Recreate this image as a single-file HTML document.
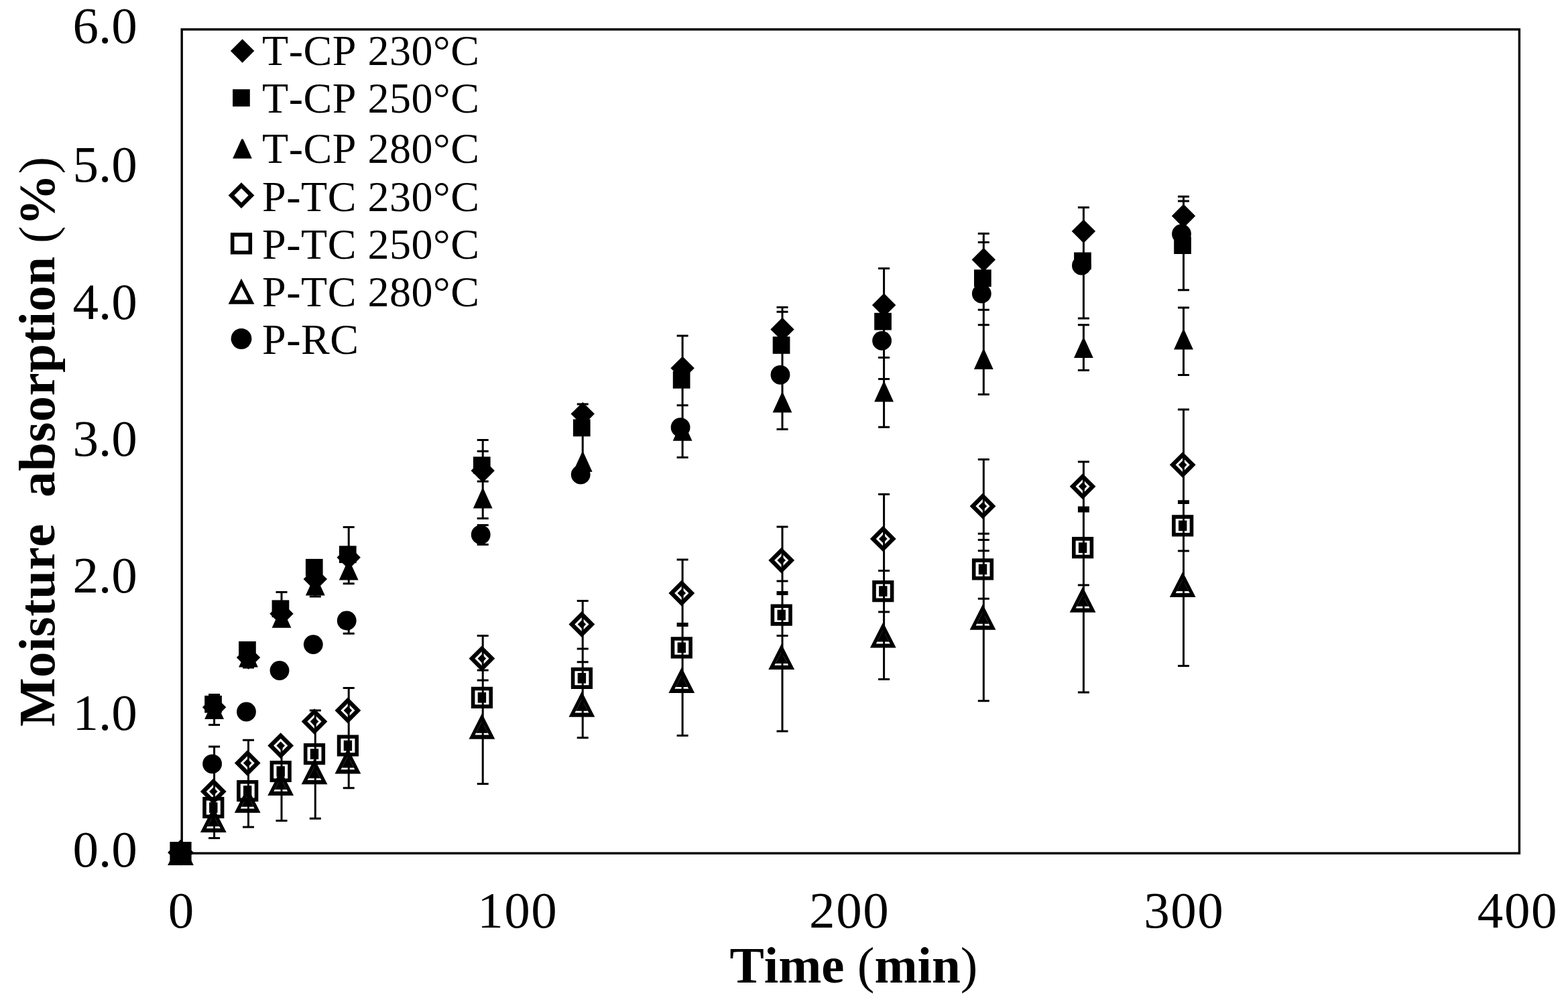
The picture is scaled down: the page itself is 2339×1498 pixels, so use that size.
<!DOCTYPE html><html><head><meta charset="utf-8"><title>Moisture absorption</title><style>html,body{margin:0;padding:0;background:#fff;overflow:hidden}svg{display:block}</style></head><body><svg width="2339" height="1498" viewBox="0 0 2339 1498"><rect width="2339" height="1498" fill="#fff"/><rect x="271.2" y="43.9" width="1995.2" height="1229.2" fill="none" stroke="#000" stroke-width="3.4"/><path d="M319.6 1036.5V1081.5M319.6 1113.9V1250.6M311.1 1036.5H328.1M311.1 1081.5H328.1M311.1 1113.9H328.1M311.1 1250.6H328.1M370.5 960V996M370.5 1104.3V1234M362 996H379M362 1104.3H379M362 1234H379M420 883.5V930M420 1111V1224.5M411.5 883.5H428.5M411.5 1224.5H428.5M470.3 850V890M470.3 1060V1221.3M461.8 890H478.8M461.8 1060H478.8M461.8 1221.3H478.8M520.2 786.5V870.8M520.2 913V945.2M520.2 1026.6V1175.7M511.7 786.5H528.7M511.7 870.8H528.7M511.7 945.2H528.7M511.7 1026.6H528.7M511.7 1175.7H528.7M720.2 656.5V773.5M720.2 783.5V812.5M720.2 948.4V1169.6M711.7 656.5H728.7M711.7 673.2H728.7M711.7 718.3H728.7M711.7 773.5H728.7M711.7 783.5H728.7M711.7 812.5H728.7M711.7 948.4H728.7M711.7 1000.1H728.7M711.7 1015.1H728.7M711.7 1169.6H728.7M869.2 603V690M869.2 896.4V1100.8M860.7 603H877.7M860.7 896.4H877.7M860.7 968.1H877.7M860.7 987.8H877.7M860.7 1100.8H877.7M1018.1 501V682.6M1018.1 835.1V1097.6M1009.6 501H1026.6M1009.6 604.8H1026.6M1009.6 682.6H1026.6M1009.6 835.1H1026.6M1009.6 930.6H1026.6M1009.6 933.4H1026.6M1009.6 1097.6H1026.6M1167 458.6V640.4M1167 786.1V1091.1M1158.5 458.6H1175.5M1158.5 465.3H1175.5M1158.5 640.4H1175.5M1158.5 786.1H1175.5M1158.5 866.9H1175.5M1158.5 883.6H1175.5M1158.5 886.4H1175.5M1158.5 948.4H1175.5M1158.5 1091.1H1175.5M1318.6 400.4V637.3M1318.6 737.6V1013.6M1310.1 400.4H1327.1M1310.1 533.5H1327.1M1310.1 565.6H1327.1M1310.1 637.3H1327.1M1310.1 737.6H1327.1M1310.1 851.5H1327.1M1310.1 913H1327.1M1310.1 1013.6H1327.1M1467.3 348.6V588.5M1467.3 685.6V1045.8M1458.8 348.6H1475.8M1458.8 361.5H1475.8M1458.8 462.3H1475.8M1458.8 484.7H1475.8M1458.8 588.5H1475.8M1458.8 685.6H1475.8M1458.8 796.3H1475.8M1458.8 805.4H1475.8M1458.8 821.8H1475.8M1458.8 893.2H1475.8M1458.8 1045.8H1475.8M1616.4 309.6V475M1616.4 484.8V552.6M1616.4 689V1033M1607.9 309.6H1624.9M1607.9 475H1624.9M1607.9 484.8H1624.9M1607.9 552.6H1624.9M1607.9 689H1624.9M1607.9 757H1624.9M1607.9 760H1624.9M1607.9 763H1624.9M1607.9 873H1624.9M1607.9 1033H1624.9M1765.5 293.3V432.7M1765.5 458.9V559.4M1765.5 611V993.4M1757 293.3H1774M1757 299.9H1774M1757 432.7H1774M1757 458.9H1774M1757 559.4H1774M1757 611H1774M1757 747.8H1774M1757 750.4H1774M1757 821.9H1774M1757 993.4H1774" stroke="#000" stroke-width="3" fill="none"/><g fill="#000"><path fill-rule="evenodd" d="M269.5 1252.9L288.9 1291.1L250.1 1291.1ZM269.5 1264.6L279.9 1284.9L259.1 1284.9Z"/><path fill-rule="evenodd" d="M253.4 1255.9H285.6V1288.1H253.4ZM259 1261.5H280V1282.5H259Z"/><path fill-rule="evenodd" d="M269.5 1252.6L288.9 1272L269.5 1291.4L250.1 1272ZM269.5 1261.4L280.1 1272L269.5 1282.6L258.9 1272Z"/><circle cx="269.5" cy="1272" r="14.4"/><path d="M268.3 1257.5L270.7 1257.5L283.9 1286.5L255.1 1286.5Z"/><rect x="256.6" y="1259.2" width="25.7" height="25.7"/><path d="M269.5 1254.3L287.2 1272L269.5 1289.7L251.8 1272Z"/><path fill-rule="evenodd" d="M318.3 1203.9L337.7 1242.1L298.9 1242.1ZM318.3 1215.6L328.7 1235.9L307.9 1235.9Z"/><path d="M318.3 1215.6L327.3 1233.1L309.3 1233.1Z"/><path fill-rule="evenodd" d="M302.2 1188.9H334.4V1221.1H302.2ZM307.8 1194.5H328.8V1215.5H307.8Z"/><rect x="312.1" y="1197.2" width="12.4" height="15.6"/><path fill-rule="evenodd" d="M318.3 1161.6L337.7 1181L318.3 1200.4L298.9 1181ZM318.3 1170.4L328.9 1181L318.3 1191.6L307.7 1181Z"/><path d="M318.3 1174.7L324.6 1181L318.3 1187.3L312 1181Z"/><circle cx="316.6" cy="1139.8" r="14.4"/><path d="M318.4 1044L320.8 1044L334 1073L305.2 1073Z"/><rect x="305.2" y="1037.9" width="25.7" height="25.7"/><path d="M319.6 1037.6L337.3 1055.3L319.6 1073L301.9 1055.3Z"/><path fill-rule="evenodd" d="M369.2 1174.6L388.6 1212.8L349.8 1212.8ZM369.2 1186.3L379.6 1206.6L358.8 1206.6Z"/><path d="M369.2 1186.3L378.2 1203.8L360.2 1203.8Z"/><path fill-rule="evenodd" d="M353.1 1163.9H385.3V1196.1H353.1ZM358.7 1169.5H379.7V1190.5H358.7Z"/><rect x="363" y="1172.2" width="12.4" height="15.6"/><path fill-rule="evenodd" d="M369.2 1119.1L388.6 1138.5L369.2 1157.9L349.8 1138.5ZM369.2 1127.9L379.8 1138.5L369.2 1149.1L358.6 1138.5Z"/><path d="M369.2 1132.2L375.5 1138.5L369.2 1144.8L362.9 1138.5Z"/><circle cx="367.5" cy="1062" r="14.4"/><path d="M369.3 966.5L371.7 966.5L384.9 995.5L356.1 995.5Z"/><rect x="356.1" y="956.9" width="25.7" height="25.7"/><path d="M370.5 963.4L388.2 981.1L370.5 998.8L352.8 981.1Z"/><path fill-rule="evenodd" d="M418.7 1148.7L438.1 1186.9L399.3 1186.9ZM418.7 1160.4L429.1 1180.7L408.3 1180.7Z"/><path d="M418.7 1160.4L427.7 1177.9L409.7 1177.9Z"/><path fill-rule="evenodd" d="M402.6 1134.9H434.8V1167.1H402.6ZM408.2 1140.5H429.2V1161.5H408.2Z"/><rect x="412.5" y="1143.2" width="12.4" height="15.6"/><path fill-rule="evenodd" d="M418.7 1093.2L438.1 1112.6L418.7 1132L399.3 1112.6ZM418.7 1102L429.3 1112.6L418.7 1123.2L408.1 1112.6Z"/><path d="M418.7 1106.3L425 1112.6L418.7 1118.9L412.4 1112.6Z"/><circle cx="417" cy="1000.5" r="14.4"/><path d="M418.8 907.7L421.2 907.7L434.4 936.7L405.6 936.7Z"/><rect x="405.6" y="895.4" width="25.7" height="25.7"/><path d="M420 898.1L437.7 915.8L420 933.5L402.3 915.8Z"/><path fill-rule="evenodd" d="M469 1132.1L488.4 1170.3L449.6 1170.3ZM469 1143.8L479.4 1164.1L458.6 1164.1Z"/><path d="M469 1143.8L478 1161.3L460 1161.3Z"/><path fill-rule="evenodd" d="M452.9 1108.9H485.1V1141.1H452.9ZM458.5 1114.5H479.5V1135.5H458.5Z"/><rect x="462.8" y="1117.2" width="12.4" height="15.6"/><path fill-rule="evenodd" d="M469 1057.2L488.4 1076.6L469 1096L449.6 1076.6ZM469 1066L479.6 1076.6L469 1087.2L458.4 1076.6Z"/><path d="M469 1070.3L475.3 1076.6L469 1082.9L462.7 1076.6Z"/><circle cx="467.3" cy="961.6" r="14.4"/><path d="M469.1 859.4L471.5 859.4L484.7 888.4L455.9 888.4Z"/><rect x="455.9" y="833.9" width="25.7" height="25.7"/><path d="M470.3 846.4L488 864.1L470.3 881.8L452.6 864.1Z"/><path fill-rule="evenodd" d="M518.9 1116.3L538.3 1154.5L499.5 1154.5ZM518.9 1128L529.3 1148.3L508.5 1148.3Z"/><path d="M518.9 1128L527.9 1145.5L509.9 1145.5Z"/><path fill-rule="evenodd" d="M502.8 1096.4H535V1128.6H502.8ZM508.4 1102H529.4V1123H508.4Z"/><rect x="512.7" y="1104.7" width="12.4" height="15.6"/><path fill-rule="evenodd" d="M518.9 1040.6L538.3 1060L518.9 1079.4L499.5 1060ZM518.9 1049.4L529.5 1060L518.9 1070.6L508.3 1060Z"/><path d="M518.9 1053.7L525.2 1060L518.9 1066.3L512.6 1060Z"/><circle cx="517.2" cy="926" r="14.4"/><path d="M519 836.4L521.4 836.4L534.6 865.4L505.8 865.4Z"/><rect x="505.9" y="814.4" width="25.7" height="25.7"/><path d="M520.2 814.1L537.9 831.8L520.2 849.5L502.5 831.8Z"/><path fill-rule="evenodd" d="M718.9 1064.5L738.3 1102.7L699.5 1102.7ZM718.9 1076.2L729.3 1096.5L708.5 1096.5Z"/><path d="M718.9 1076.2L727.9 1093.7L709.9 1093.7Z"/><path fill-rule="evenodd" d="M702.8 1024.7H735V1056.9H702.8ZM708.4 1030.3H729.4V1051.3H708.4Z"/><rect x="712.7" y="1033" width="12.4" height="15.6"/><path fill-rule="evenodd" d="M718.9 963.2L738.3 982.6L718.9 1002L699.5 982.6ZM718.9 972L729.5 982.6L718.9 993.2L708.3 982.6Z"/><path d="M718.9 976.3L725.2 982.6L718.9 988.9L712.6 982.6Z"/><circle cx="717.2" cy="797.8" r="14.4"/><path d="M719 729.6L721.4 729.6L734.6 758.6L705.8 758.6Z"/><rect x="705.9" y="681.4" width="25.7" height="25.7"/><path d="M720.2 684.5L737.9 702.2L720.2 719.9L702.5 702.2Z"/><path fill-rule="evenodd" d="M867.9 1031.6L887.3 1069.8L848.5 1069.8ZM867.9 1043.3L878.3 1063.6L857.5 1063.6Z"/><path d="M867.9 1043.3L876.9 1060.8L858.9 1060.8Z"/><path fill-rule="evenodd" d="M851.8 995.7H884V1027.9H851.8ZM857.4 1001.3H878.4V1022.3H857.4Z"/><rect x="861.7" y="1004" width="12.4" height="15.6"/><path fill-rule="evenodd" d="M867.9 912.1L887.3 931.5L867.9 950.9L848.5 931.5ZM867.9 920.9L878.5 931.5L867.9 942.1L857.3 931.5Z"/><path d="M867.9 925.2L874.2 931.5L867.9 937.8L861.6 931.5Z"/><circle cx="866.2" cy="708.1" r="14.4"/><path d="M868 674.9L870.4 674.9L883.6 703.9L854.8 703.9Z"/><rect x="854.9" y="625.5" width="25.7" height="25.7"/><path d="M869.2 599.9L886.9 617.6L869.2 635.3L851.5 617.6Z"/><path fill-rule="evenodd" d="M1016.8 995.8L1036.2 1034L997.4 1034ZM1016.8 1007.5L1027.2 1027.8L1006.4 1027.8Z"/><path d="M1016.8 1007.5L1025.8 1025L1007.8 1025Z"/><path fill-rule="evenodd" d="M1000.7 950.2H1032.9V982.4H1000.7ZM1006.3 955.8H1027.3V976.8H1006.3Z"/><rect x="1010.6" y="958.5" width="12.4" height="15.6"/><path fill-rule="evenodd" d="M1016.8 865.6L1036.2 885L1016.8 904.4L997.4 885ZM1016.8 874.4L1027.4 885L1016.8 895.6L1006.2 885Z"/><path d="M1016.8 878.7L1023.1 885L1016.8 891.3L1010.5 885Z"/><circle cx="1015.1" cy="637.7" r="14.4"/><path d="M1016.9 628.7L1019.3 628.7L1032.5 657.7L1003.7 657.7Z"/><rect x="1003.8" y="554" width="25.7" height="25.7"/><path d="M1018.1 531.6L1035.8 549.3L1018.1 567L1000.4 549.3Z"/><path fill-rule="evenodd" d="M1165.7 960.7L1185.1 998.9L1146.3 998.9ZM1165.7 972.4L1176.1 992.7L1155.3 992.7Z"/><path d="M1165.7 972.4L1174.7 989.9L1156.7 989.9Z"/><path fill-rule="evenodd" d="M1149.6 901.5H1181.8V933.7H1149.6ZM1155.2 907.1H1176.2V928.1H1155.2Z"/><rect x="1159.5" y="909.8" width="12.4" height="15.6"/><path fill-rule="evenodd" d="M1165.7 816.7L1185.1 836.1L1165.7 855.5L1146.3 836.1ZM1165.7 825.5L1176.3 836.1L1165.7 846.7L1155.1 836.1Z"/><path d="M1165.7 829.8L1172 836.1L1165.7 842.4L1159.4 836.1Z"/><circle cx="1164" cy="559.3" r="14.4"/><path d="M1165.8 586.5L1168.2 586.5L1181.4 615.5L1152.6 615.5Z"/><rect x="1152.7" y="502.2" width="25.7" height="25.7"/><path d="M1167 473.7L1184.7 491.4L1167 509.1L1149.3 491.4Z"/><path fill-rule="evenodd" d="M1317.3 928.4L1336.7 966.6L1297.9 966.6ZM1317.3 940.1L1327.7 960.4L1306.9 960.4Z"/><path d="M1317.3 940.1L1326.3 957.6L1308.3 957.6Z"/><path fill-rule="evenodd" d="M1301.2 866H1333.4V898.2H1301.2ZM1306.8 871.6H1327.8V892.6H1306.8Z"/><rect x="1311.1" y="874.3" width="12.4" height="15.6"/><path fill-rule="evenodd" d="M1317.3 784.5L1336.7 803.9L1317.3 823.3L1297.9 803.9ZM1317.3 793.3L1327.9 803.9L1317.3 814.5L1306.7 803.9Z"/><path d="M1317.3 797.6L1323.6 803.9L1317.3 810.2L1311 803.9Z"/><circle cx="1315.6" cy="508.4" r="14.4"/><path d="M1317.4 570.5L1319.8 570.5L1333 599.5L1304.2 599.5Z"/><rect x="1304.2" y="466.8" width="25.7" height="25.7"/><path d="M1318.6 437.6L1336.3 455.3L1318.6 473L1300.9 455.3Z"/><path fill-rule="evenodd" d="M1466 901.5L1485.4 939.7L1446.6 939.7ZM1466 913.2L1476.4 933.5L1455.6 933.5Z"/><path d="M1466 913.2L1475 930.7L1457 930.7Z"/><path fill-rule="evenodd" d="M1449.9 833.3H1482.1V865.5H1449.9ZM1455.5 838.9H1476.5V859.9H1455.5Z"/><rect x="1459.8" y="841.6" width="12.4" height="15.6"/><path fill-rule="evenodd" d="M1466 735.8L1485.4 755.2L1466 774.6L1446.6 755.2ZM1466 744.6L1476.6 755.2L1466 765.8L1455.4 755.2Z"/><path d="M1466 748.9L1472.3 755.2L1466 761.5L1459.7 755.2Z"/><circle cx="1464.3" cy="438.1" r="14.4"/><path d="M1466.1 522L1468.5 522L1481.7 551L1452.9 551Z"/><rect x="1453" y="402.2" width="25.7" height="25.7"/><path d="M1467.3 369.8L1485 387.5L1467.3 405.2L1449.6 387.5Z"/><path fill-rule="evenodd" d="M1615.1 875.6L1634.5 913.8L1595.7 913.8ZM1615.1 887.3L1625.5 907.6L1604.7 907.6Z"/><path d="M1615.1 887.3L1624.1 904.8L1606.1 904.8Z"/><path fill-rule="evenodd" d="M1599 801.1H1631.2V833.3H1599ZM1604.6 806.7H1625.6V827.7H1604.6Z"/><rect x="1608.9" y="809.4" width="12.4" height="15.6"/><path fill-rule="evenodd" d="M1615.1 706.4L1634.5 725.8L1615.1 745.2L1595.7 725.8ZM1615.1 715.2L1625.7 725.8L1615.1 736.4L1604.5 725.8Z"/><path d="M1615.1 719.5L1621.4 725.8L1615.1 732.1L1608.8 725.8Z"/><circle cx="1613.4" cy="396.1" r="14.4"/><path d="M1615.2 504.9L1617.6 504.9L1630.8 533.9L1602 533.9Z"/><rect x="1602.1" y="376.5" width="25.7" height="25.7"/><path d="M1616.4 327.4L1634.1 345.1L1616.4 362.8L1598.7 345.1Z"/><path fill-rule="evenodd" d="M1764.2 852.9L1783.6 891.1L1744.8 891.1ZM1764.2 864.6L1774.6 884.9L1753.8 884.9Z"/><path d="M1764.2 864.6L1773.2 882.1L1755.2 882.1Z"/><path fill-rule="evenodd" d="M1748.1 768.3H1780.3V800.5H1748.1ZM1753.7 773.9H1774.7V794.9H1753.7Z"/><rect x="1758" y="776.6" width="12.4" height="15.6"/><path fill-rule="evenodd" d="M1764.2 674.2L1783.6 693.6L1764.2 713L1744.8 693.6ZM1764.2 683L1774.8 693.6L1764.2 704.2L1753.6 693.6Z"/><path d="M1764.2 687.3L1770.5 693.6L1764.2 699.9L1757.9 693.6Z"/><circle cx="1762.5" cy="349" r="14.4"/><path d="M1764.3 492.5L1766.7 492.5L1779.9 521.5L1751.1 521.5Z"/><rect x="1751.2" y="353.3" width="25.7" height="25.7"/><path d="M1765.5 304.6L1783.2 322.3L1765.5 340L1747.8 322.3Z"/></g><g fill="#000"><path d="M361.6 58.3L379.3 76L361.6 93.7L343.9 76Z"/><rect x="347.1" y="133.2" width="25.7" height="25.7"/><path d="M360.3 207.6L362.7 207.6L375.9 236.6L347.1 236.6Z"/><path fill-rule="evenodd" d="M360 272.2L379.4 291.6L360 311L340.6 291.6ZM360 281L370.6 291.6L360 302.2L349.4 291.6Z"/><path fill-rule="evenodd" d="M343.9 347.3H376.1V379.5H343.9ZM349.5 352.9H370.5V373.9H349.5Z"/><path fill-rule="evenodd" d="M360 415.5L379.4 453.7L340.6 453.7ZM360 427.2L370.4 447.5L349.6 447.5Z"/><circle cx="360" cy="505.5" r="15.4"/></g><g font-family="Liberation Serif, serif" font-size="64" fill="#000" style="font-kerning:none" letter-spacing="0.55"><text x="391" y="97.3">T-CP 230°C</text><text x="391" y="168.3">T-CP 250°C</text><text x="391" y="242.7">T-CP 280°C</text><text x="391" y="314.5">P-TC 230°C</text><text x="391" y="385.5">P-TC 250°C</text><text x="391" y="456.8">P-TC 280°C</text><text x="391" y="528.4">P-RC</text></g><g font-family="Liberation Serif, serif" font-size="77" fill="#000" text-anchor="end"><text x="204.8" y="1293.2">0.0</text><text x="204.8" y="1089.2">1.0</text><text x="204.8" y="883.6">2.0</text><text x="204.8" y="679.5">3.0</text><text x="204.8" y="475.5">4.0</text><text x="204.8" y="270.6">5.0</text><text x="204.8" y="64">6.0</text></g><g font-family="Liberation Serif, serif" font-size="77" fill="#000" style="font-kerning:none" letter-spacing="1.6"><text x="270.9" y="1384" text-anchor="middle">0</text><text x="772.3" y="1384" text-anchor="middle">100</text><text x="1267.2" y="1384" text-anchor="middle">200</text><text x="1766.3" y="1384" text-anchor="middle">300</text><text x="2264" y="1384" text-anchor="middle">400</text></g><text x="1273.4" y="1465.5" text-anchor="middle" font-family="Liberation Serif, serif" font-weight="bold" font-size="77" fill="#000" style="font-kerning:none">Time <tspan font-weight="normal">(</tspan>min<tspan font-weight="normal">)</tspan></text><text transform="translate(81 658.7) rotate(-90)" x="0" y="0" text-anchor="middle" font-family="Liberation Serif, serif" font-weight="bold" font-size="77" fill="#000" style="font-kerning:none" letter-spacing="0.42" xml:space="preserve">Moisture  absorption <tspan font-weight="normal">(</tspan>%<tspan font-weight="normal">)</tspan></text></svg></body></html>
